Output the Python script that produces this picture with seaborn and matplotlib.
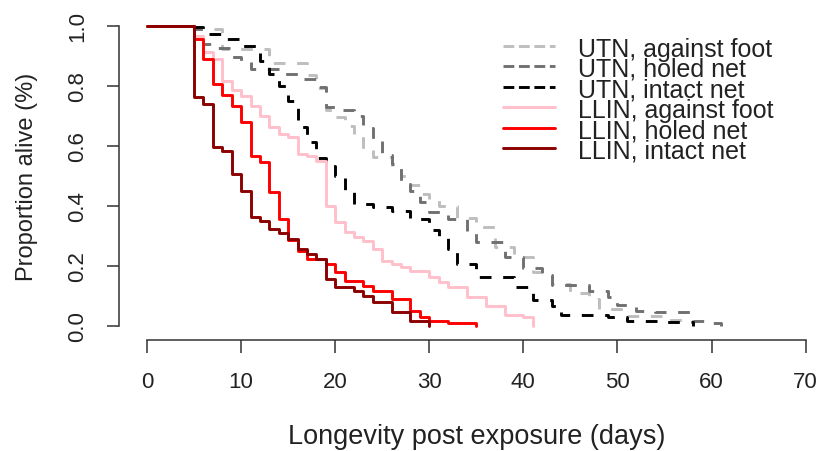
import matplotlib
matplotlib.use("Agg")
import matplotlib.pyplot as plt
from matplotlib.lines import Line2D
import pandas as pd
import seaborn as sns

# Kaplan-Meier step curves (day, proportion alive after the drop)
groups = ["UTN, against foot", "UTN, holed net", "UTN, intact net",
          "LLIN, against foot", "LLIN, holed net", "LLIN, intact net"]

utn_foot_days = [0, 5, 8, 13, 17, 18, 19, 20, 21, 22, 23, 24, 26, 27, 28, 29, 30, 31,
                 33, 35, 37, 39, 41, 43, 45, 47, 48, 51, 55, 57]
utn_foot_alive = [1.0, 0.99, 0.923, 0.877, 0.837, 0.793, 0.72, 0.697, 0.667, 0.634, 0.59,
                  0.563, 0.533, 0.50, 0.47, 0.44, 0.42, 0.40, 0.36, 0.33, 0.263, 0.23,
                  0.18, 0.14, 0.11, 0.09, 0.057, 0.034, 0.02, 0.0]

utn_holed_days = [0, 5, 6, 7, 9, 10, 11, 14, 16, 18, 19, 20, 22, 23, 24, 25, 26, 27, 28,
                  29, 30, 32, 34, 35, 38, 40, 42, 43, 47, 49, 50, 52, 54, 58, 60, 61]
utn_holed_alive = [1.0, 0.99, 0.94, 0.927, 0.897, 0.88, 0.857, 0.84, 0.823, 0.797, 0.73,
                   0.72, 0.70, 0.66, 0.62, 0.57, 0.54, 0.473, 0.45, 0.413, 0.38, 0.357,
                   0.317, 0.28, 0.23, 0.193, 0.17, 0.137, 0.118, 0.096, 0.07, 0.051,
                   0.047, 0.017, 0.01, 0.0]

utn_intact_days = [0, 5, 6, 8, 10, 12, 13, 14, 15, 16, 17, 18, 19, 20, 21, 22, 24, 26, 28,
                   30, 31, 32, 33, 35, 39, 41, 43, 44, 49, 51, 55, 58]
utn_intact_alive = [1.0, 0.996, 0.973, 0.957, 0.934, 0.883, 0.84, 0.80, 0.75, 0.662, 0.613,
                    0.56, 0.533, 0.50, 0.45, 0.407, 0.397, 0.384, 0.357, 0.32, 0.297, 0.257,
                    0.207, 0.162, 0.13, 0.085, 0.068, 0.038, 0.029, 0.018, 0.012, 0.0]

llin_foot_days = [0, 5, 6, 7, 8, 9, 10, 11, 12, 13, 14, 15, 16, 17, 18, 19, 20, 21, 22,
                  23, 24, 25, 26, 27, 28, 30, 31, 32, 34, 36, 38, 40, 41]
llin_foot_alive = [1.0, 0.968, 0.912, 0.89, 0.818, 0.787, 0.766, 0.732, 0.70, 0.662, 0.64,
                   0.629, 0.573, 0.568, 0.551, 0.401, 0.345, 0.312, 0.296, 0.284, 0.257,
                   0.218, 0.207, 0.196, 0.184, 0.162, 0.146, 0.13, 0.096, 0.068, 0.037,
                   0.029, 0.0]

llin_holed_days = [0, 5, 6, 7, 8, 9, 10, 11, 12, 13, 14, 15, 16, 17, 19, 20, 21, 23, 24,
                   26, 28, 29, 30, 32, 35]
llin_holed_alive = [1.0, 0.957, 0.89, 0.807, 0.77, 0.732, 0.68, 0.567, 0.546, 0.445, 0.357,
                    0.287, 0.251, 0.223, 0.207, 0.179, 0.151, 0.134, 0.118, 0.09, 0.051,
                    0.03, 0.018, 0.01, 0.0]

llin_intact_days = [0, 5, 6, 7, 8, 9, 10, 11, 12, 13, 14, 15, 16, 17, 18, 19, 20, 22, 23,
                    24, 26, 28, 30]
llin_intact_alive = [1.0, 0.763, 0.74, 0.598, 0.584, 0.507, 0.451, 0.363, 0.351, 0.323,
                     0.31, 0.29, 0.257, 0.24, 0.223, 0.157, 0.129, 0.118, 0.10, 0.08, 0.047,
                     0.018, 0.0]

x_ticks = [0, 10, 20, 30, 40, 50, 60, 70]
y_ticks = [0.0, 0.2, 0.4, 0.6, 0.8, 1.0]

colors = ["#bebebe", "#707070", "#000000", "#ffc0cb", "#ff0000", "#8b0000"]
dashes = [(4, 4), (4, 4), (4, 4), "", "", ""]

curves = [(utn_foot_days, utn_foot_alive), (utn_holed_days, utn_holed_alive),
          (utn_intact_days, utn_intact_alive), (llin_foot_days, llin_foot_alive),
          (llin_holed_days, llin_holed_alive), (llin_intact_days, llin_intact_alive)]
df = pd.concat(
    [pd.DataFrame({"day": d, "alive": a, "group": g}) for g, (d, a) in zip(groups, curves)],
    ignore_index=True,
)

sns.set_theme(style="ticks")
plt.rcParams["font.family"] = ["Liberation Sans", "DejaVu Sans"]

W, H = 823, 452
fig = plt.figure(figsize=(W / 100, H / 100), dpi=100)
ax = fig.add_axes([119 / W, 1 - 341 / H, 696 / W, 326 / H])

sns.lineplot(
    data=df, x="day", y="alive", hue="group", style="group",
    hue_order=groups, style_order=groups,
    palette=dict(zip(groups, colors)), dashes=dict(zip(groups, dashes)),
    drawstyle="steps-post", estimator=None, linewidth=2.1, legend=False, ax=ax,
)

ax.set_xlim(-2.98, 71)
ax.set_ylim(-0.047, 1.04)
ax.set_xticks(x_ticks)
ax.set_yticks(y_ticks)
ax.set_yticklabels([f"{v:.1f}" for v in y_ticks], rotation=90, va="center")
ax.tick_params(axis="both", length=9, width=1.1, color="#333333", pad=13,
               labelsize=16, labelcolor="#222222")

sns.despine(ax=ax)
for side in ["left", "bottom"]:
    ax.spines[side].set_linewidth(1.1)
    ax.spines[side].set_color("#333333")
ax.spines["left"].set_bounds(0, 1)
ax.spines["bottom"].set_bounds(0, 70)

ax.set_xlabel("Longevity post exposure (days)", fontsize=19.5, color="#222222")
ax.set_ylabel("Proportion alive (%)", fontsize=17, color="#222222")
ax.xaxis.set_label_coords(0.5136, -0.294)
ax.xaxis.label.set_verticalalignment("center")
ax.yaxis.set_label_coords(-0.132, 0.503)
ax.yaxis.label.set_verticalalignment("center")

# legend rows placed like R's legend(): tight rows, no frame
for i, (line, label) in enumerate(zip(ax.lines[:6], groups)):
    y = 1 - (47 + 20.4 * i) / H
    fig.add_artist(Line2D([503 / W, 555 / W], [y, y], transform=fig.transFigure,
                          color=line.get_color(), linestyle=line.get_linestyle(),
                          linewidth=line.get_linewidth()))
    fig.text(578 / W, y, label, fontsize=18, color="#222222", va="center_baseline",
             ha="left")

fig.savefig("out.png", dpi=100)
plt.close(fig)
